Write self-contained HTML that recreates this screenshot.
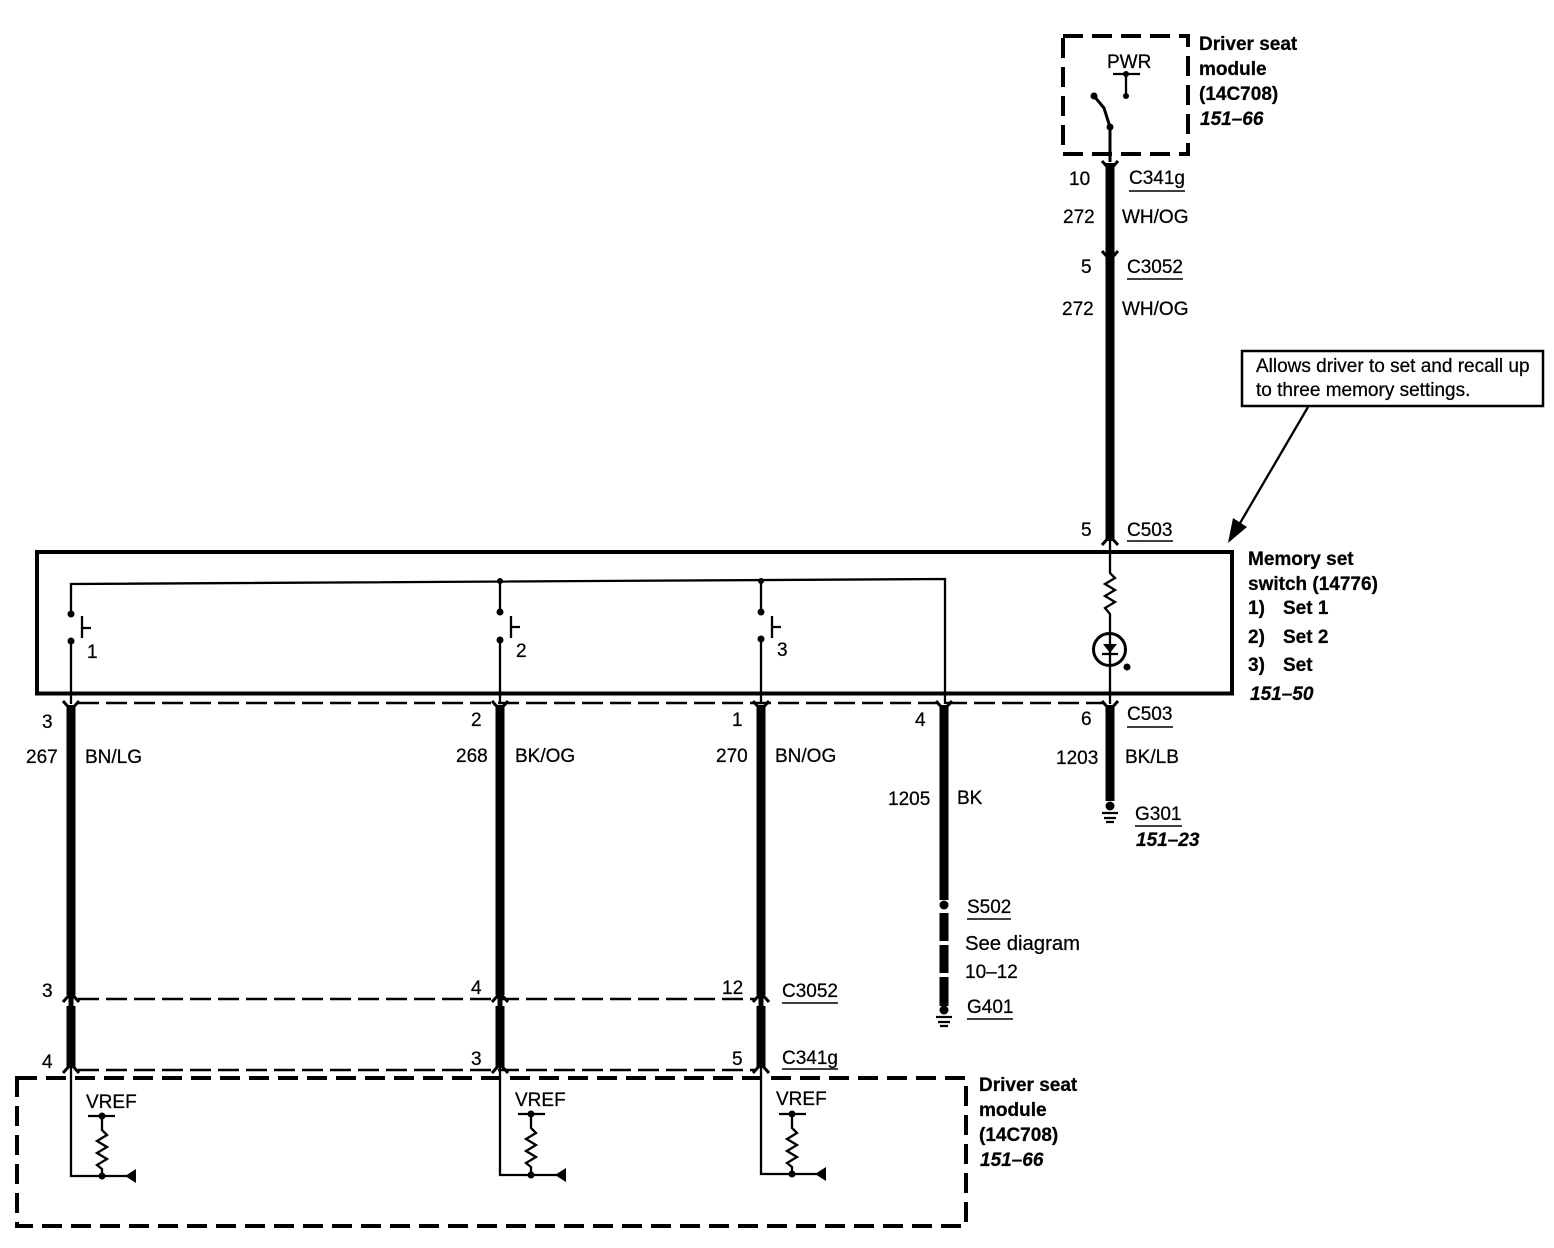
<!DOCTYPE html>
<html><head><meta charset="utf-8"><style>
html,body{margin:0;padding:0;background:#fff}
svg{display:block}
text{font-family:"Liberation Sans",sans-serif;font-size:19px;fill:#000;stroke:#000;stroke-width:.25}
.b{font-weight:bold}
.i{font-weight:bold;font-style:italic}
.t{stroke:#000;stroke-width:2.3;fill:none}
.w{stroke:#000;stroke-width:9;fill:none}
.d{stroke:#000;stroke-width:4;fill:none;stroke-dasharray:20 9}
.h{stroke:#000;stroke-width:2.5;fill:none;stroke-dasharray:21 7}
.u{stroke:#000;stroke-width:1.5;fill:none}
.c{stroke:#000;stroke-width:3;fill:none}
</style></head><body>
<svg width="1554" height="1248" viewBox="0 0 1554 1248" xmlns="http://www.w3.org/2000/svg">
<!-- top module -->
<rect x="1063" y="36" width="125" height="118" class="d"/>
<text x="1107" y="68">PWR</text>
<path class="t" d="M1113 74H1140M1126 74V96"/>
<circle cx="1126" cy="74" r="3"/><circle cx="1126" cy="96" r="3"/>
<circle cx="1094" cy="96" r="3.5"/><circle cx="1110" cy="127" r="3.5"/>
<path class="c" d="M1094 96L1104 108L1110 127V162"/>
<path class="w" d="M1110 163V541"/>
<path class="c" d="M1102 161L1110 170L1118 161M1102 251L1110 260L1118 251M1102 545L1110 536L1118 545"/>
<path class="t" d="M1110 541V552"/>
<text class="b" x="1199" y="50">Driver seat</text>
<text class="b" x="1199" y="75">module</text>
<text class="b" x="1199" y="100">(14C708)</text>
<text class="i" x="1200" y="125">151–66</text>
<text x="1069" y="185">10</text>
<text x="1129" y="184">C341g</text><path class="u" d="M1129 191H1185"/>
<text x="1063" y="223">272</text><text x="1122" y="223">WH/OG</text>
<text x="1081" y="273">5</text>
<text x="1127" y="273">C3052</text><path class="u" d="M1127 279H1183"/>
<text x="1062" y="315">272</text><text x="1122" y="315">WH/OG</text>
<!-- note -->
<rect x="1242" y="351" width="301" height="55" fill="#fff" stroke="#000" stroke-width="2.5"/>
<text x="1256" y="372">Allows driver to set and recall up</text>
<text x="1256" y="396">to three memory settings.</text>
<path class="t" d="M1308 407L1236 530"/>
<path d="M1228 543L1233 518L1247 527Z"/>
<text x="1081" y="536">5</text>
<text x="1127" y="536">C503</text><path class="u" d="M1127 541H1173"/>
<!-- main box -->
<rect x="37" y="552" width="1195" height="141.500" fill="none" stroke="#000" stroke-width="4"/>
<path class="t" d="M71 614V584L945 579V704"/>
<path class="t" d="M500 581V612M500 641V704M761 581V612M761 639V704M71 641V704"/>
<circle cx="71" cy="614" r="3.500"/><circle cx="71" cy="641" r="3.500"/>
<circle cx="500" cy="581" r="3"/><circle cx="500" cy="612" r="3.500"/><circle cx="500" cy="640" r="3.500"/>
<circle cx="761" cy="581" r="3"/><circle cx="761" cy="612" r="3.500"/><circle cx="761" cy="639" r="3.500"/>
<path class="t" d="M82 616V638M82 628H91M511 616V638M511 627H520M772 616V638M772 627H781"/>
<text x="87" y="658">1</text><text x="516" y="657">2</text><text x="777" y="656">3</text>
<!-- resistor + LED -->
<path class="t" d="M1110 552V573L1115 578L1105 584L1115 590L1105 596L1115 602L1105 608L1110 614V704"/>
<circle cx="1109.500" cy="649.500" r="16" fill="none" stroke="#000" stroke-width="3"/>
<path d="M1103 644H1117L1110 653Z"/><path class="t" d="M1102 654H1118"/>
<circle cx="1127" cy="667" r="3.500"/>
<text class="b" x="1248" y="565">Memory set</text>
<text class="b" x="1248" y="590">switch (14776)</text>
<text class="b" x="1248" y="614">1)</text><text class="b" x="1283" y="614">Set 1</text>
<text class="b" x="1248" y="643">2)</text><text class="b" x="1283" y="643">Set 2</text>
<text class="b" x="1248" y="671">3)</text><text class="b" x="1283" y="671">Set</text>
<text class="i" x="1250" y="700">151–50</text>
<!-- thick wires -->
<path class="w" d="M71 705V995M71 1006V1067M500 705V995M500 1006V1067M761 705V995M761 1006V1067M1110 705V801"/>
<path class="w" d="M944 705V900M944 913V941M944 945V973M944 977V1006"/>
<path stroke="#000" stroke-width="5" fill="none" d="M71 995V1006M500 995V1006M761 995V1006"/>
<path class="t" d="M71 1067V1078M500 1067V1078M761 1067V1078"/>
<circle cx="944" cy="905" r="4.500"/>
<!-- dashed connectors -->
<path class="h" d="M78 703H1104M78 999H756M78 1070H756"/>
<path class="c" d="M63 701L71 710L79 701M492 701L500 710L508 701M753 701L761 710L769 701M936 701L944 710L952 701M1102 701L1110 710L1118 701"/>
<path class="c" d="M63 1002L71 993L79 1002M492 1002L500 993L508 1002M753 1002L761 993L769 1002"/>
<path class="c" d="M63 1073L71 1064L79 1073M492 1073L500 1064L508 1073M753 1073L761 1064L769 1073"/>
<!-- ground -->
<circle cx="1110" cy="806" r="4.500"/>
<path class="t" d="M1102 813H1118M1104 818H1116M1106 822H1114"/>
<circle cx="944" cy="1010" r="4.500"/>
<path class="t" d="M936 1017H952M938 1022H950M940 1026H948"/>
<!-- labels row -->
<text x="42" y="728">3</text><text x="471" y="726">2</text><text x="732" y="726">1</text><text x="915" y="726">4</text><text x="1081" y="725">6</text>
<text x="1127" y="720">C503</text><path class="u" d="M1127 727H1173"/>
<text x="26" y="763">267</text><text x="85" y="763">BN/LG</text>
<text x="456" y="762">268</text><text x="515" y="762">BK/OG</text>
<text x="716" y="762">270</text><text x="775" y="762">BN/OG</text>
<text x="1056" y="764">1203</text><text x="1125" y="763">BK/LB</text>
<text x="888" y="805">1205</text><text x="957" y="804">BK</text>
<text x="1135" y="820">G301</text><path class="u" d="M1135 826H1182"/>
<text class="i" x="1136" y="846">151–23</text>
<text x="967" y="913">S502</text><path class="u" d="M967 919H1011"/>
<text x="965" y="950" style="font-size:20.300px">See diagram</text>
<text x="965" y="978">10–12</text>
<text x="967" y="1013">G401</text><path class="u" d="M967 1019H1013"/>
<text x="42" y="997">3</text><text x="471" y="994">4</text><text x="722" y="994">12</text>
<text x="782" y="997">C3052</text><path class="u" d="M782 1003H838"/>
<text x="42" y="1068">4</text><text x="471" y="1065">3</text><text x="732" y="1065">5</text>
<text x="782" y="1064">C341g</text><path class="u" d="M782 1069H838"/>
<!-- bottom module -->
<rect x="17" y="1078" width="949" height="148" class="d"/>
<text x="86" y="1108">VREF</text><text x="515" y="1106">VREF</text><text x="776" y="1105">VREF</text>
<path class="t" d="M71 1078V1176H130M88 1116H115M102 1116V1130L107 1135L97 1141L107 1147L97 1153L107 1159L97 1165L102 1169V1176"/>
<path class="t" d="M500 1078V1175H560M518 1114H545M531 1114V1128L536 1133L526 1139L536 1145L526 1151L536 1157L526 1163L531 1167V1175"/>
<path class="t" d="M761 1078V1174H820M779 1114H806M792 1114V1128L797 1133L787 1139L797 1145L787 1151L797 1157L787 1163L792 1167V1174"/>
<circle cx="102" cy="1116" r="3.500"/><circle cx="102" cy="1176" r="3.500"/>
<circle cx="531" cy="1114" r="3.500"/><circle cx="531" cy="1175" r="3.500"/>
<circle cx="792" cy="1114" r="3.500"/><circle cx="792" cy="1174" r="3.500"/>
<path d="M125 1176L136 1169V1183Z"/><path d="M555 1175L566 1168V1182Z"/><path d="M815 1174L826 1167V1181Z"/>
<text class="b" x="979" y="1091">Driver seat</text>
<text class="b" x="979" y="1116">module</text>
<text class="b" x="979" y="1141">(14C708)</text>
<text class="i" x="980" y="1166">151–66</text>
</svg>
</body></html>
